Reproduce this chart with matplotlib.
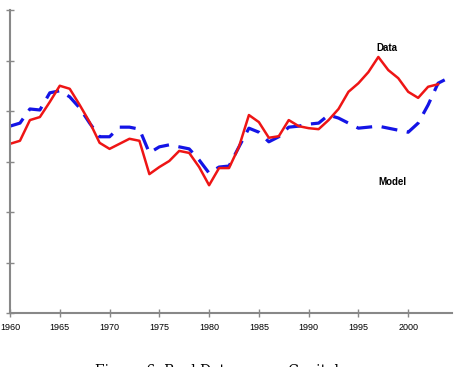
import numpy as np
import matplotlib.pyplot as plt

years_data = np.arange(1960, 2004)
data = [3.35, 3.41, 3.82, 3.88, 4.18, 4.50, 4.44, 4.12, 3.78, 3.37,
        3.25, 3.35, 3.45, 3.41, 2.75, 2.89, 3.01, 3.21, 3.17, 2.89,
        2.53, 2.87, 2.87, 3.29, 3.92, 3.78, 3.47, 3.50, 3.82, 3.70,
        3.66, 3.64, 3.82, 4.04, 4.38, 4.55, 4.77, 5.07, 4.81, 4.65,
        4.38, 4.26, 4.48, 4.53]

years_model = np.arange(1960, 2005)
model = [3.70, 3.76, 4.04, 4.02, 4.36, 4.40, 4.28, 4.06, 3.76, 3.49,
         3.49, 3.68, 3.68, 3.64, 3.17, 3.29, 3.33, 3.29, 3.25, 3.03,
         2.77, 2.89, 2.91, 3.29, 3.66, 3.58, 3.39, 3.49, 3.68, 3.70,
         3.74, 3.76, 3.92, 3.86, 3.76, 3.66, 3.68, 3.70, 3.66, 3.62,
         3.58, 3.76, 4.12, 4.55, 4.65]

xticks = list(range(1960, 2001, 5))
yticks = list(range(0, 7))
ytick_labels = [f"{v}%" for v in yticks]

fig = plt.figure(figsize=(4.57, 3.67), dpi=100)
ax = fig.add_axes([10 / 457, 1 - 313 / 367, 442 / 457, 303 / 367])

ax.plot(years_model, model, color='#1414e6', lw=2.3, ls=(0, (5, 3)))
ax.plot(years_data, data, color='#ee1515', lw=1.8)

ax.text(1997.9, 5.14, 'Data', fontsize=7, fontweight='bold',
        family='Liberation Sans', ha='center', va='bottom')
ax.text(1998.4, 2.49, 'Model', fontsize=7, fontweight='bold',
        family='Liberation Sans', ha='center', va='bottom')

ax.set_xlim(1960, 2004.4)
ax.set_ylim(0, 6)
ax.set_xticks(xticks)
ax.set_yticks(yticks)
ax.set_yticklabels(ytick_labels)
for lab in ax.get_xticklabels() + ax.get_yticklabels():
    lab.set_family('Liberation Sans')
    lab.set_fontsize(6.5)
ax.tick_params(direction='inout', length=6, width=1, color='#888888', pad=4)

for s in ['top', 'right']:
    ax.spines[s].set_visible(False)
for s in ['left', 'bottom']:
    ax.spines[s].set_color('#888888')
    ax.spines[s].set_linewidth(1.5)

fig.text(0.475, -0.022, 'Figure 6: Real Data versus Capital', family='DejaVu Serif',
         fontsize=10, ha='center', va='baseline')

fig.savefig('out.png', dpi=100)
